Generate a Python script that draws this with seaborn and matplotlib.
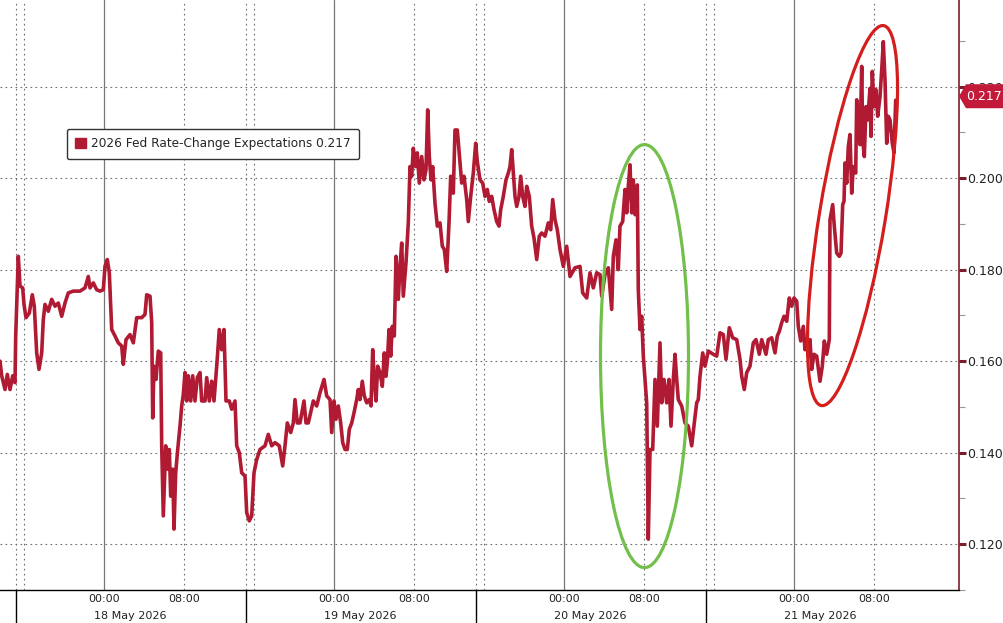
import matplotlib
matplotlib.use("Agg")
import matplotlib.pyplot as plt
import seaborn as sns
import numpy as np
from matplotlib.patches import Ellipse, Patch, Polygon
from matplotlib.transforms import IdentityTransform

# x = trading-time hours, 0 = 18 May 00:00 (the one-hour daily break is removed,
# so each session is 23 h long); y = expected 2026 Fed rate change
hours = [
    -10.37, -10.20, -9.87, -9.64, -9.37, -9.10, -8.87, -8.80, -8.54, -8.37,
    -8.10, -7.97, -7.77, -7.44, -7.14, -6.94, -6.70, -6.47, -6.20, -6.04,
    -5.87, -5.54, -5.20, -4.87, -4.54, -4.20, -3.87, -3.54, -3.04, -2.37,
    -1.87, -1.54, -1.37, -1.04, -0.70, -0.37, -0.04, 0.13, 0.36, 0.56,
    0.80, 1.13, 1.46, 1.80, 1.96, 2.23, 2.63, 2.96, 3.30, 3.80,
    4.13, 4.30, 4.63, 4.80, 4.90, 5.03, 5.23, 5.46, 5.70, 5.80,
    5.96, 6.20, 6.40, 6.56, 6.70, 6.90, 7.03, 7.20, 7.40, 7.63,
    7.80, 7.96, 8.13, 8.30, 8.46, 8.70, 8.90, 9.13, 9.36, 9.63,
    9.80, 10.13, 10.30, 10.56, 10.80, 11.03, 11.30, 11.56, 11.80, 12.03,
    12.23, 12.56, 12.80, 13.13, 13.30, 13.56, 13.80, 14.13, 14.30, 14.56,
    14.80, 15.03, 15.30, 15.63, 16.13, 16.46, 16.80, 17.13, 17.56, 17.90,
    18.13, 18.36, 18.70, 18.96, 19.13, 19.36, 19.63, 20.03, 20.23, 20.46,
    20.96, 21.30, 21.63, 22.03, 22.30, 22.63, 22.80, 23.03, 23.23, 23.46,
    23.70, 23.90, 24.13, 24.36, 24.56, 24.80, 25.03, 25.30, 25.46, 25.63,
    25.86, 26.06, 26.30, 26.56, 26.73, 26.90, 27.06, 27.23, 27.40, 27.63,
    27.86, 28.06, 28.23, 28.36, 28.53, 28.70, 28.86, 29.06, 29.23, 29.46,
    29.63, 29.80, 29.96, 30.23, 30.46, 30.63, 30.80, 30.96, 31.20, 31.36,
    31.56, 31.80, 32.03, 32.23, 32.40, 32.56, 32.73, 32.90, 33.13, 33.36,
    33.63, 33.86, 34.06, 34.30, 34.53, 34.70, 34.96, 35.13, 35.36, 35.56,
    35.80, 36.03, 36.30, 36.46, 36.70, 36.96, 37.20, 37.36, 37.63, 37.90,
    38.13, 38.36, 38.56, 38.80, 39.03, 39.30, 39.53, 39.70, 39.96, 40.23,
    40.46, 40.63, 40.80, 40.96, 41.13, 41.30, 41.53, 41.70, 41.90, 42.13,
    42.30, 42.56, 42.80, 43.03, 43.30, 43.56, 43.80, 44.13, 44.46, 44.70,
    44.90, 45.13, 45.36, 45.63, 45.96, 46.30, 46.63, 47.13, 47.63, 47.90,
    48.30, 48.63, 48.96, 49.30, 49.63, 49.80, 50.13, 50.46, 50.80, 50.96,
    51.23, 51.46, 51.63, 51.90, 52.13, 52.30, 52.46, 52.63, 52.80, 52.96,
    53.13, 53.36, 53.46, 53.63, 53.80, 53.96, 54.13, 54.30, 54.46, 54.63,
    54.90, 55.13, 55.36, 55.63, 55.80, 56.03, 56.30, 56.53, 56.73, 56.96,
    57.13, 57.30, 57.46, 57.80, 58.13, 58.46, 58.80, 59.06, 59.30, 59.46,
    59.63, 59.90, 60.13, 60.46, 60.96, 61.30, 61.63, 61.96, 62.23, 62.56,
    62.90, 63.30, 63.63, 63.80, 64.06, 64.30, 64.63, 64.96, 65.23, 65.56,
    65.80, 66.23, 66.46, 66.80, 67.13, 67.36, 67.56, 67.80, 68.03, 68.30,
    68.56, 68.80, 69.03, 69.30, 69.46, 69.70, 69.96, 70.13, 70.30, 70.46,
    70.63, 70.80, 71.03, 71.30, 71.63, 71.86, 72.06, 72.30, 72.56, 72.63,
    72.90, 73.06, 73.30, 73.56, 73.73, 73.90, 74.03, 74.13, 74.30, 74.46,
    74.63, 74.80, 74.96, 75.20, 75.30, 75.46, 75.63, 75.80, 75.90, 76.06,
    76.23, 76.40, 76.63, 76.73, 76.86, 77.03, 77.23, 77.40, 77.63, 77.80,
    77.96, 78.13, 78.30, 78.46, 78.63, 78.86, 79.03, 79.20,
]
values = [
    0.1600, 0.1568, 0.1538, 0.1571, 0.1538, 0.1568, 0.1553, 0.1655, 0.1829, 0.1764,
    0.1760, 0.1724, 0.1695, 0.1705, 0.1745, 0.1720, 0.1618, 0.1582, 0.1618, 0.1691,
    0.1724, 0.1709, 0.1735, 0.1720, 0.1727, 0.1698, 0.1727, 0.1749, 0.1753, 0.1753,
    0.1760, 0.1785, 0.1760, 0.1771, 0.1756, 0.1753, 0.1756, 0.1807, 0.1822, 0.1793,
    0.1669, 0.1655, 0.1640, 0.1633, 0.1593, 0.1647, 0.1658, 0.1640, 0.1695, 0.1695,
    0.1702, 0.1745, 0.1742, 0.1684, 0.1476, 0.1589, 0.1560, 0.1622, 0.1618, 0.1415,
    0.1262, 0.1415, 0.1364, 0.1407, 0.1305, 0.1364, 0.1233, 0.1356, 0.1407, 0.1458,
    0.1502, 0.1527, 0.1575, 0.1513, 0.1568, 0.1513, 0.1568, 0.1513, 0.1564, 0.1575,
    0.1513, 0.1513, 0.1564, 0.1513, 0.1556, 0.1513, 0.1589, 0.1669, 0.1625, 0.1669,
    0.1513, 0.1513, 0.1495, 0.1513, 0.1415, 0.1400, 0.1356, 0.1349, 0.1269, 0.1251,
    0.1262, 0.1356, 0.1385, 0.1407, 0.1415, 0.1440, 0.1415, 0.1422, 0.1415, 0.1371,
    0.1415, 0.1465, 0.1444, 0.1465, 0.1516, 0.1465, 0.1465, 0.1513, 0.1465, 0.1465,
    0.1513, 0.1502, 0.1531, 0.1560, 0.1524, 0.1516, 0.1444, 0.1513, 0.1473, 0.1502,
    0.1465, 0.1422, 0.1407, 0.1407, 0.1451, 0.1465, 0.1487, 0.1516, 0.1538, 0.1516,
    0.1556, 0.1524, 0.1509, 0.1516, 0.1502, 0.1625, 0.1560, 0.1513, 0.1589, 0.1575,
    0.1545, 0.1618, 0.1567, 0.1596, 0.1669, 0.1611, 0.1676, 0.1655, 0.1829, 0.1735,
    0.1807, 0.1858, 0.1742, 0.1815, 0.1902, 0.2025, 0.2004, 0.2065, 0.2025, 0.2055,
    0.1989, 0.2047, 0.1996, 0.2018, 0.2149, 0.2047, 0.1996, 0.2025, 0.1945, 0.1895,
    0.1902, 0.1851, 0.1844, 0.1796, 0.1902, 0.2004, 0.1967, 0.2105, 0.2105, 0.2051,
    0.1989, 0.2004, 0.1953, 0.1905, 0.1960, 0.2011, 0.2076, 0.2036, 0.1996, 0.1989,
    0.1960, 0.1975, 0.1949, 0.1960, 0.1931, 0.1905, 0.1895, 0.1931, 0.1960, 0.1996,
    0.2011, 0.2025, 0.2062, 0.2011, 0.1960, 0.1938, 0.1960, 0.2004, 0.1960, 0.1938,
    0.1982, 0.1960, 0.1895, 0.1869, 0.1822, 0.1873, 0.1880, 0.1873, 0.1902, 0.1887,
    0.1953, 0.1909, 0.1887, 0.1844, 0.1807, 0.1851, 0.1785, 0.1804, 0.1807, 0.1749,
    0.1738, 0.1793, 0.1760, 0.1793, 0.1789, 0.1742, 0.1789, 0.1804, 0.1713, 0.1829,
    0.1865, 0.1800, 0.1895, 0.1905, 0.1975, 0.1924, 0.1982, 0.2029, 0.1924, 0.1996,
    0.1920, 0.1985, 0.1756, 0.1669, 0.1698, 0.1611, 0.1560, 0.1509, 0.1211, 0.1407,
    0.1407, 0.1560, 0.1458, 0.1640, 0.1509, 0.1560, 0.1509, 0.1560, 0.1458, 0.1560,
    0.1615, 0.1560, 0.1516, 0.1502, 0.1465, 0.1458, 0.1415, 0.1465, 0.1509, 0.1516,
    0.1567, 0.1618, 0.1589, 0.1622, 0.1615, 0.1611, 0.1662, 0.1658, 0.1604, 0.1673,
    0.1651, 0.1647, 0.1604, 0.1567, 0.1538, 0.1575, 0.1589, 0.1640, 0.1647, 0.1615,
    0.1647, 0.1615, 0.1647, 0.1651, 0.1618, 0.1655, 0.1665, 0.1684, 0.1698, 0.1687,
    0.1738, 0.1720, 0.1738, 0.1731, 0.1676, 0.1644, 0.1676, 0.1625, 0.1647, 0.1611,
    0.1647, 0.1582, 0.1615, 0.1611, 0.1556, 0.1589, 0.1644, 0.1615, 0.1647, 0.1909,
    0.1942, 0.1895, 0.1836, 0.1829, 0.1836, 0.1942, 0.1949, 0.2033, 0.1989, 0.2069,
    0.2095, 0.1967, 0.2025, 0.2011, 0.2171, 0.2113, 0.2073, 0.2244, 0.2084, 0.2047,
    0.2156, 0.2127, 0.2196, 0.2091, 0.2233, 0.2156, 0.2193, 0.2135, 0.2178, 0.2236,
    0.2298, 0.2215, 0.2076, 0.2135, 0.2127, 0.2076, 0.2055, 0.2170,
]

series_name = "2026 Fed Rate-Change Expectations"
last_value = 0.217
day_labels = ["18 May 2026", "19 May 2026", "20 May 2026", "21 May 2026"]
day_starts = [0, 23, 46, 69]            # 00:00 of each day on the trading axis
session_breaks = [-8.8, 14.2, 37.2, 60.2]
y_major = [0.12, 0.14, 0.16, 0.18, 0.20, 0.22]
y_minor = [0.11, 0.13, 0.15, 0.17, 0.19, 0.21, 0.23]

LINE = "#B11A33"
SPINE = "#7A1E2C"
TAG = "#C41A3A"
GRID = "#6E6E6E"
dots = (0, (1.5, 3.0))

sns.set_theme(style="white")
plt.rcParams["font.family"] = ["DejaVu Sans"]

fig = plt.figure(figsize=(10.04, 6.23), dpi=100)
ax = fig.add_axes([0, 33 / 623, 959 / 1004, 590 / 623])

sns.lineplot(x=hours, y=values, ax=ax, color=LINE, linewidth=2.6,
             estimator=None, sort=False, zorder=3)

ax.set_xlim(-10.37, 85.53)
ax.set_ylim(0.1101, 0.2389)
ax.set_xlabel("")
ax.set_ylabel("")

# spines
ax.spines["left"].set_visible(False)
ax.spines["top"].set_visible(False)
ax.spines["right"].set_color(SPINE)
ax.spines["right"].set_linewidth(1.2)
ax.spines["bottom"].set_color("black")
ax.spines["bottom"].set_linewidth(1.0)

# y axis on the right
ax.yaxis.tick_right()
ax.set_yticks(y_major)
ax.set_yticklabels([f"{v:.3f}" for v in y_major])
ax.set_yticks(y_minor, minor=True)
ax.tick_params(axis="y", which="major", direction="out", length=5, width=2.2,
               color=SPINE, labelsize=9, labelcolor="#222222", pad=1)
ax.tick_params(axis="y", which="minor", direction="out", length=4, width=0.8,
               color="#999999")

# x axis: labels at 00:00 and 08:00, small ticks every 4 h
x_major = sorted(d + o for d in day_starts for o in (0, 8))
x_minor = sorted(d + o for d in day_starts for o in (-8, -4, 4, 12))
ax.set_xticks(x_major)
ax.set_xticklabels(["00:00" if i % 2 == 0 else "08:00" for i in range(len(x_major))])
ax.set_xticks(x_minor, minor=True)
ax.tick_params(axis="x", which="both", direction="out", length=3, width=0.8,
               color="black", labelsize=8, labelcolor="#222222", pad=0)

# grid
ax.grid(False)
for v in y_major:
    ax.axhline(v, color=GRID, lw=0.8, ls=dots, zorder=1)
for d in day_starts:
    ax.axvline(d, color="#777777", lw=0.9, zorder=1)
    ax.axvline(d + 8, color=GRID, lw=0.8, ls=dots, zorder=1)
    ax.axvline(d - 8, color=GRID, lw=0.8, ls=dots, zorder=1)
for b in session_breaks:
    ax.axvline(b, color=GRID, lw=0.8, ls=dots, zorder=1)

# session separators below the axis and day labels
ax.vlines(session_breaks, -33 / 590, 0, transform=ax.get_xaxis_transform(),
          colors="black", lw=1.0, clip_on=False)
for b, lbl in zip(session_breaks, day_labels):
    ax.annotate(lbl, xy=(b + 11.5, 0), xycoords=ax.get_xaxis_transform(),
                xytext=(0, -18.6), textcoords="offset points",
                ha="center", va="center", fontsize=8, color="#222222")

# legend
ax.legend(handles=[Patch(facecolor=LINE, edgecolor=LINE)],
          labels=[f"{series_name} {last_value:.3f}"],
          loc="upper left", bbox_to_anchor=(67 / 959, 1 - 129 / 590),
          borderaxespad=0, fontsize=8.7, handlelength=0.85, handleheight=0.85,
          handletextpad=0.45, borderpad=0.7, frameon=True, fancybox=True,
          edgecolor="#333333", framealpha=1)


def pixel_ellipse(xc, yc, w_px, h_px, angle, color):
    cx, cy = ax.transData.transform((xc, yc))
    e = Ellipse((cx, cy), w_px, h_px, angle=angle, fill=False, edgecolor=color,
                linewidth=2.3, transform=IdentityTransform(), zorder=4,
                clip_on=False)
    ax.add_patch(e)


pixel_ellipse(54.08, 0.1611, 88, 423, 0, "#72C04B")
pixel_ellipse(74.88, 0.1918, 385, 66, 80.7, "#D41E1E")

# last value tag on the right axis
tx = ax.bbox.x1
ty = ax.transData.transform((0, last_value))[1] + 4
tag = Polygon([(tx, ty), (tx + 7, ty + 12), (tx + 50, ty + 12),
               (tx + 50, ty - 12), (tx + 7, ty - 12)], closed=True,
              facecolor=TAG, edgecolor="none", transform=IdentityTransform(),
              zorder=5)
fig.add_artist(tag)
fig.text(tx + 25, ty, f"{last_value:.3f}", color="white", fontsize=9,
         ha="center", va="center", transform=IdentityTransform(), zorder=6)

fig.savefig("out.png", dpi=100)
